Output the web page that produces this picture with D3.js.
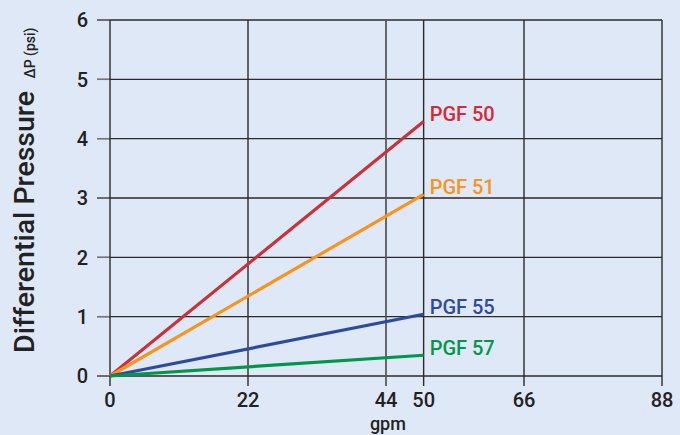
<!DOCTYPE html>
<html>
<head>
<meta charset="utf-8">
<script src="https://cdn.jsdelivr.net/npm/d3@7"></script>
<style>
  body { margin: 0; background: #dfe8f6; }
  text { font-family: Roboto, "Noto Sans", sans-serif; font-weight: 500; }
</style>
</head>
<body>
<div id="chart"></div>
<script>
var margin = {top: 20, right: 18, bottom: 59, left: 110};
var width = 680 - margin.left - margin.right,
    height = 435 - margin.top - margin.bottom;

// data
var xTicks = [0, 22, 44, 50, 66, 88];
var yTicks = [0, 1, 2, 3, 4, 5, 6];
var names = ["PGF 50", "PGF 51", "PGF 55", "PGF 57"];
var colors = ["#c8323a", "#f7941d", "#2d4aa0", "#00974a"];
var labelColors = ["#d42a36", "#f7941d", "#2d4aa0", "#00974a"];
var flow = [0, 50];
var pgf50 = [0, 4.29];
var pgf51 = [0, 3.06];
var pgf55 = [0, 1.04];
var pgf57 = [0, 0.35];
var series = [pgf50, pgf51, pgf55, pgf57];

var xScale = d3.scaleLinear().domain([0, 88]).range([0, width]);
var yScale = d3.scaleLinear().domain([0, 6]).range([height, 0]);

var svg = d3.select("#chart").append("svg")
    .attr("width", 680)
    .attr("height", 435)
  .append("g")
    .attr("transform", "translate(" + margin.left + "," + margin.top + ")");

// horizontal grid + ticks
svg.selectAll(".hgrid")
    .data(yTicks)
  .enter().append("line")
    .attr("x1", -13).attr("x2", width)
    .attr("y1", function(d) { return yScale(d); })
    .attr("y2", function(d) { return yScale(d); })
    .attr("stroke", "#2a2a2a")
    .attr("stroke-width", 1.4);

svg.selectAll(".htick")
    .data(yTicks)
  .enter().append("line")
    .attr("x1", -13).attr("x2", 0)
    .attr("y1", function(d) { return yScale(d); })
    .attr("y2", function(d) { return yScale(d); })
    .attr("stroke", "#777")
    .attr("stroke-width", 1.4);

// vertical grid + ticks
svg.selectAll(".vgrid")
    .data(xTicks)
  .enter().append("line")
    .attr("x1", function(d) { return xScale(d); })
    .attr("x2", function(d) { return xScale(d); })
    .attr("y1", 0).attr("y2", height + 10)
    .attr("stroke", function(d) { return d == 44 ? "#5a5a5a" : "#2a2a2a"; })
    .attr("stroke-width", function(d) { return d == 44 ? 1.8 : 1.4; });

// tick labels
svg.selectAll(".ylab")
    .data(yTicks)
  .enter().append("text")
    .attr("x", -22)
    .attr("y", function(d) { return yScale(d); })
    .attr("dy", "0.36em")
    .attr("text-anchor", "end")
    .attr("font-size", 20)
    .attr("fill", "#222")
    .text(function(d) { return d; });

svg.selectAll(".xlab")
    .data(xTicks)
  .enter().append("text")
    .attr("x", function(d) { return xScale(d); })
    .attr("y", height + 31)
    .attr("text-anchor", "middle")
    .attr("font-size", 20)
    .attr("fill", "#222")
    .text(function(d) { return d; });

svg.append("text")
    .attr("x", xScale(44.3))
    .attr("y", height + 54)
    .attr("text-anchor", "middle")
    .attr("font-size", 18)
    .attr("fill", "#222")
    .text("gpm");

// axis titles
svg.append("text")
    .attr("transform", "translate(" + (-76) + "," + (222 - margin.top) + ") rotate(-90)")
    .attr("text-anchor", "middle")
    .attr("font-size", 28.5)
    .attr("fill", "#222")
    .text("Differential Pressure");

svg.append("text")
    .attr("transform", "translate(" + (-75) + "," + (53 - margin.top) + ") rotate(-90)")
    .attr("text-anchor", "middle")
    .attr("font-size", 14)
    .attr("fill", "#222")
    .text("\u0394P (psi)");

// lines
var line = d3.line()
    .x(function(d, i) { return xScale(flow[i]); })
    .y(function(d) { return yScale(d); });

svg.selectAll(".series")
    .data(series)
  .enter().append("path")
    .attr("d", line)
    .attr("fill", "none")
    .attr("stroke", function(d, i) { return colors[i]; })
    .attr("stroke-width", 3.2);

svg.selectAll(".name")
    .data(series)
  .enter().append("text")
    .attr("x", xScale(flow[1]) + 6)
    .attr("y", function(d) { return yScale(d[1]); })
    .attr("font-size", 20)
    .attr("fill", function(d, i) { return labelColors[i]; })
    .text(function(d, i) { return names[i]; });
</script>
</body>
</html>
